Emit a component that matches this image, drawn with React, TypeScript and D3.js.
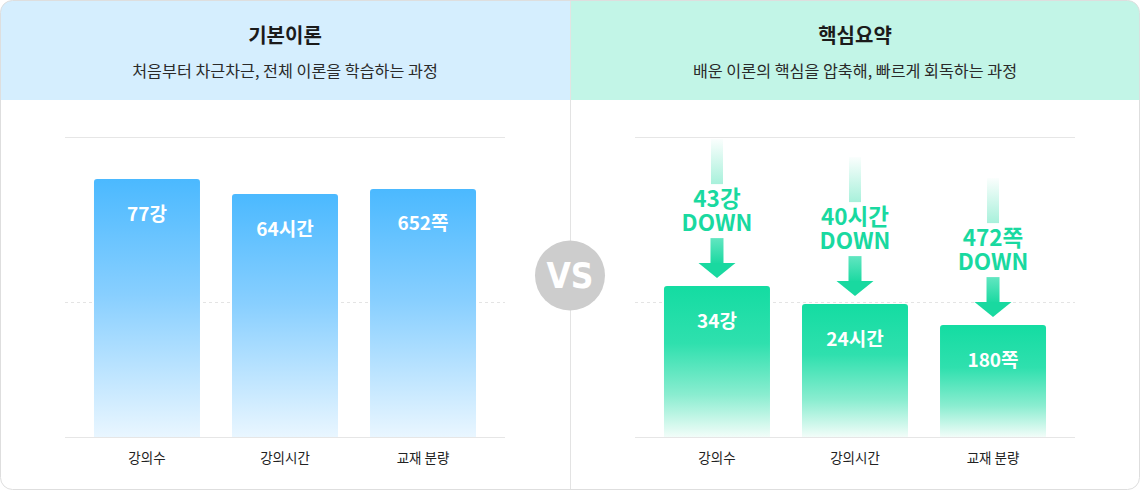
import * as React from "react";
import * as d3 from "d3";

// chart data
const categories = ["강의수", "강의시간", "교재 분량"];
const units = ["강", "시간", "쪽"];
const basicValues = [77, 64, 652];
const summaryValues = [34, 24, 180];
// bar length as drawn (percent of plot height), the picture is not to scale
const basicBarLevels = [86, 81, 82.7];
const summaryBarLevels = [50.3, 44.3, 37.3];
const gridLevels = [0, 45, 100];
const panelTitles = ["기본이론", "핵심요약"];
const panelSubtitles = [
  "처음부터 차근차근, 전체 이론을 학습하는 과정",
  "배운 이론의 핵심을 압축해, 빠르게 회독하는 과정"
];

const W = 1140;
const H = 490;
const FONT = "'Noto Sans CJK KR', 'Noto Sans', sans-serif";
const GREEN = "#19d9a0";

const yScale = d3.scaleLinear().domain([0, 100]).range([437, 137]);

const makeX = (x0: number, x1: number) =>
  d3.scaleBand<string>().domain(categories).range([x0, x1]).paddingInner(0.232).paddingOuter(0.21);

const topRounded = (x: number, y: number, w: number, h: number, r: number) => {
  const p = d3.path();
  p.moveTo(x, y + h);
  p.lineTo(x, y + r);
  p.quadraticCurveTo(x, y, x + r, y);
  p.lineTo(x + w - r, y);
  p.quadraticCurveTo(x + w, y, x + w, y + r);
  p.lineTo(x + w, y + h);
  p.closePath();
  return p.toString();
};

function Panel({ side }: { side: number }) {
  const x0 = side === 0 ? 65 : 635;
  const x1 = side === 0 ? 505 : 1075;
  const xScale = makeX(x0, x1);
  const levels = side === 0 ? basicBarLevels : summaryBarLevels;
  const values = side === 0 ? basicValues : summaryValues;
  const cxPanel = side === 0 ? 285 : 855;
  const bw = xScale.bandwidth();
  return (
    <g>
      <rect x={side === 0 ? 0 : 570} y={0} width={570} height={100} fill={side === 0 ? "#d5eefe" : "#c2f5e7"} />
      <text x={cxPanel} y={34} textAnchor="middle" dominantBaseline="central" fontSize={20} fontWeight={700} fill="#1b1b1b">
        {panelTitles[side]}
      </text>
      <text x={cxPanel} y={69.5} textAnchor="middle" dominantBaseline="central" fontSize={16.2} fill="#2a2a2a">
        {panelSubtitles[side]}
      </text>
      {gridLevels.map((g, i) => (
        <line
          key={i}
          x1={x0}
          x2={x1}
          y1={Math.round(yScale(g)) + 0.5}
          y2={Math.round(yScale(g)) + 0.5}
          stroke={g === 0 || g === 100 ? "#e6e6e6" : "#e4e4e4"}
          strokeDasharray={g === 0 || g === 100 ? undefined : "3,3"}
        />
      ))}
      {categories.map((c, i) => {
        const x = xScale(c)!;
        const top = yScale(levels[i]);
        const cx = x + bw / 2;
        return (
          <g key={c}>
            <path d={topRounded(x, top, bw, yScale(0) - top, 3)} fill={`url(#grad${side})`} />
            <text x={cx} y={top + 33} textAnchor="middle" dominantBaseline="central" fontSize={19} fontWeight={700} fill="#fff">
              {values[i] + units[i]}
            </text>
            <text x={cx} y={457} textAnchor="middle" dominantBaseline="central" fontSize={13.5} fill="#222">
              {c}
            </text>
            {side === 1 && (
              <g>
                <rect x={cx - 6} y={top - 147} width={12} height={45} fill="url(#stem)" />
                <text textAnchor="middle" fontSize={22.5} fontWeight={700} fill={GREEN}>
                  <tspan x={cx} y={top - 79}>{basicValues[i] - summaryValues[i] + units[i]}</tspan>
                  <tspan x={cx} y={top - 55}>DOWN</tspan>
                </text>
                <rect x={cx - 6.5} y={top - 48} width={13} height={26} fill="url(#shaft)" />
                <polygon
                  points={`${cx - 18.5},${top - 23} ${cx + 18.5},${top - 23} ${cx},${top - 8}`}
                  fill={GREEN}
                />
              </g>
            )}
          </g>
        );
      })}
    </g>
  );
}

export default function App() {
  return (
    <div>
      <style>{`body{margin:0}`}</style>
      <svg width={W} height={H} fontFamily={FONT} style={{ display: "block" }}>
        <defs>
          <clipPath id="card">
            <rect x={0.5} y={0.5} width={W - 1} height={H - 1} rx={12} />
          </clipPath>
          <linearGradient id="grad0" x1="0" y1="0" x2="0" y2="1">
            <stop offset="0%" stopColor="#4bb9ff" />
            <stop offset="45%" stopColor="#88cfff" />
            <stop offset="100%" stopColor="#e9f6ff" />
          </linearGradient>
          <linearGradient id="grad1" x1="0" y1="0" x2="0" y2="1">
            <stop offset="0%" stopColor="#14dca2" />
            <stop offset="38%" stopColor="#2fe0ae" />
            <stop offset="72%" stopColor="#8aedd0" />
            <stop offset="100%" stopColor="#f2fdf9" />
          </linearGradient>
          <linearGradient id="stem" x1="0" y1="0" x2="0" y2="1">
            <stop offset="0%" stopColor={GREEN} stopOpacity={0.02} />
            <stop offset="100%" stopColor={GREEN} stopOpacity={0.38} />
          </linearGradient>
          <linearGradient id="shaft" x1="0" y1="0" x2="0" y2="1">
            <stop offset="0%" stopColor="#62e6c1" />
            <stop offset="100%" stopColor={GREEN} />
          </linearGradient>
        </defs>
        <g clipPath="url(#card)">
          <rect x={0} y={0} width={W} height={H} fill="#fff" />
          <Panel side={0} />
          <Panel side={1} />
          <line x1={570.5} x2={570.5} y1={0} y2={H} stroke="#e3e3e3" />
        </g>
        <rect x={0.5} y={0.5} width={W - 1} height={H - 1} rx={12} fill="none" stroke="#dedede" />
        <circle cx={570} cy={275.5} r={35} fill="#cdcdcd" />
        <text
          x={570}
          y={276}
          textAnchor="middle"
          dominantBaseline="central"
          fontFamily="'Liberation Sans Narrow', 'DejaVu Sans Condensed', sans-serif"
          fontSize={35}
          fontWeight={700}
          fill="#fff"
        >
          VS
        </text>
      </svg>
    </div>
  );
}
